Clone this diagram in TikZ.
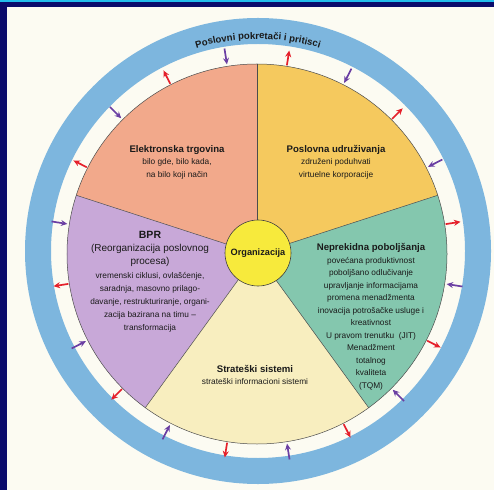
\documentclass[tikz,border=0pt]{standalone}
\usepackage{fontspec}
\setmainfont{Liberation Sans}
\usetikzlibrary{decorations.text,arrows.meta}
\definecolor{navy}{HTML}{0B0B6B}
\definecolor{cyanline}{HTML}{22BDEB}
\definecolor{paper}{HTML}{FCFBF2}
\definecolor{ringblue}{HTML}{7DB6DE}
\definecolor{salmon}{HTML}{F2A98B}
\definecolor{gold}{HTML}{F5C95E}
\definecolor{seagreen}{HTML}{84C7AE}
\definecolor{cream}{HTML}{F8EEBF}
\definecolor{lilac}{HTML}{C8A8D8}
\definecolor{orgyellow}{HTML}{F7EA3C}
\definecolor{arrred}{HTML}{E5202B}
\definecolor{arrpurple}{HTML}{6B3FA3}
\definecolor{inktext}{HTML}{1A1A1A}
\newcommand{\ttlfont}{\fontsize{9.6}{12.5}\selectfont\bfseries}
\begin{document}
\begin{tikzpicture}[x=1pt,y=1pt,
  slicetext/.style={align=center,text=inktext,font=\fontsize{8.3}{12.5}\selectfont,inner sep=0pt},
  outarrow/.style={draw=arrred,fill=arrred,line width=1.7pt,-{Stealth[length=6.5pt,width=6pt]}},
  inarrow/.style={draw=arrpurple,fill=arrpurple,line width=1.7pt,-{Stealth[length=6.5pt,width=6pt]}},
  edge/.style={draw=black!70,line width=0.5pt}]
\useasboundingbox (0,0) rectangle (494,490);
\fill[paper] (0,0) rectangle (494,490);
\fill[navy] (0,0) rectangle (7,490);
\fill[navy] (0,483) rectangle (494,488);
\fill[cyanline] (0,488) rectangle (494,490);
\coordinate (C) at (257,236);
\coordinate (RC) at (258,239);
% ring
\fill[ringblue,even odd rule] (RC) circle (233) (RC) circle (207);
\path[decorate,decoration={text along path,text align=center,
  text={|\fontsize{9.6}{10}\selectfont\bfseries\color{inktext}|Poslovni pokretači i pritisci}}]
  (RC) ++(125:212) arc[start angle=125,end angle=55,radius=212];
% slices
\fill[gold] (C) -- ++(18:190) arc[start angle=18,end angle=90,radius=190] -- cycle;
\fill[salmon] (C) -- ++(90:190) arc[start angle=90,end angle=162,radius=190] -- cycle;
\fill[lilac] (C) -- ++(162:190) arc[start angle=162,end angle=234,radius=190] -- cycle;
\fill[cream] (C) -- ++(234:190) arc[start angle=234,end angle=306,radius=190] -- cycle;
\fill[seagreen] (C) -- ++(306:190) arc[start angle=306,end angle=378,radius=190] -- cycle;
\foreach \a in {18,90,162,234,306} \draw[edge] (C) -- ++(\a:190);
\draw[edge] (C) circle (190);
% arrows
\foreach \a in {9,45,...,333} \draw[outarrow] (C) ++(\a:191) -- ++(\a:15);
\foreach \a in {27,63,...,351} \draw[inarrow] (C) ++(\a:208) -- ++(\a+180:16);
% centre
\node[circle,fill=orgyellow,draw=black!75,line width=0.6pt,minimum size=66pt,inner sep=0pt,
  font=\fontsize{9.2}{10}\selectfont\bfseries,text=inktext] (org) at (258,237) {Organizacija};
% texts
\node[slicetext] (ecom) at (177,328) {{\ttlfont Elektronska trgovina}\\bilo gde, bilo kada,\\na bilo koji način};
\node[slicetext] (assoc) at (336,328) {{\ttlfont Poslovna udruživanja}\\združeni poduhvati\\virtuelne korporacije};
\node[slicetext,font=\fontsize{8.3}{13.2}\selectfont] (bpr) at (150,208) {{\fontsize{10.5}{13.5}\selectfont\bfseries BPR}\\
  {\fontsize{10}{13.5}\selectfont (Reorganizacija poslovnog}\\{\fontsize{10}{13.5}\selectfont procesa)}\\
  vremenski ciklusi, ovlašćenje,\\saradnja, masovno prilago-\\davanje, restrukturiranje, organi-\\zacija bazirana na timu –\\transformacija};
\node[slicetext] (kaizen) at (371,173) {{\ttlfont Neprekidna poboljšanja}\\povećana produktivnost\\poboljšano odlučivanje\\upravljanje informacijama\\promena menadžmenta\\inovacija potrošačke usluge i\\kreativnost\\U pravom trenutku\ \ (JIT)\\Menadžment\\totalnog\\kvaliteta\\(TQM)};
\node[slicetext] (strat) at (255,115) {{\ttlfont Strateški sistemi}\\strateški informacioni sistemi};
\end{tikzpicture}
\end{document}
